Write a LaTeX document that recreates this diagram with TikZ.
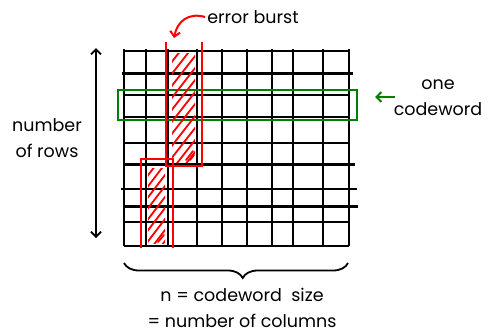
\documentclass[tikz,border=0pt]{standalone}
\usepackage{fontspec}
\setmainfont{Poppins}
\usetikzlibrary{arrows.meta,decorations.pathreplacing}
\begin{document}
\begin{tikzpicture}[x=1pt,y=-1pt,
  gridline/.style={line width=2.2pt, black},
  redline/.style={line width=2pt, red},
  hatchline/.style={line width=1.8pt, red, line cap=round},
  greenline/.style={line width=2pt, green!50!black},
  barb/.style={-{Straight Barb[length=5pt,width=10pt]}},
  lbl/.style={font=\fontsize{17.5}{26}\selectfont, inner sep=0pt, align=center}]
\useasboundingbox (0,0) rectangle (489,335);
% grid
\foreach \x in {124,146,168,197,222,247,272,293,323,349}
  \draw[gridline] (\x,49) -- (\x,246);
\foreach \y/\a/\b in {51/124/349, 73.5/122/353, 95/124/349, 117/124/349,
  143/124/349, 164.5/124/355, 189/121/357, 206.5/124/358, 222/124/350, 246/124/349}
  \draw[gridline] (\a,\y) -- (\b,\y);
% one codeword
\draw[greenline] (118,90) rectangle (357,120);
% error burst columns
\begin{scope}
  \clip (172,53) rectangle (195,162);
  \foreach \i in {0,...,10}
    \draw[hatchline] (160,{64+\i*12+13}) -- (206,{64+\i*12-46});
  \draw[hatchline] (186,160) -- (193,151);
  \draw[hatchline] (190,160) -- (194,155);
\end{scope}
\begin{scope}
  \clip (148,168) rectangle (165,243);
  \foreach \i in {0,...,8}
    \draw[hatchline] (136,{178+\i*11+13}) -- (178,{178+\i*11-42});
  \draw[hatchline] (158,242) -- (164,235);
\end{scope}
\draw[redline] (166,42) -- (166,165.5) -- (201.5,165.5) -- (201.5,42);
\draw[redline] (140.7,248) -- (140.7,158.5) -- (173.3,158.5) -- (173.3,248);
% labels
\node[lbl] (eb) at (253,17) {error burst};
\coordinate (ebtip) at (174,38);
\draw[redline, barb] (eb.west) ++(-2,0) .. controls (188,12) and (177,22) .. (ebtip);
\coordinate (rtop) at (96,48);
\coordinate (rbot) at (96,238);
\draw[line width=1.8pt, black, {Straight Barb[length=5pt,width=10pt]}-{Straight Barb[length=5pt,width=10pt]}] (rtop) -- (rbot);
\node[lbl] (rows) at (47,138) {number\\of rows};
\node[lbl] (cw) at (438,98) {one\\codeword};
\coordinate (gstart) at (395,97);
\coordinate (gend) at (375,97);
\draw[greenline, barb] (gstart) -- (gend);
\draw[line width=1.8pt, decorate, decoration={brace, mirror, amplitude=15pt, aspect=0.53}] (124,263) -- (348,263);
\node[lbl] (nsize) at (242,308) {n = codeword\ \ size\\= number of columns};
\end{tikzpicture}
\end{document}
